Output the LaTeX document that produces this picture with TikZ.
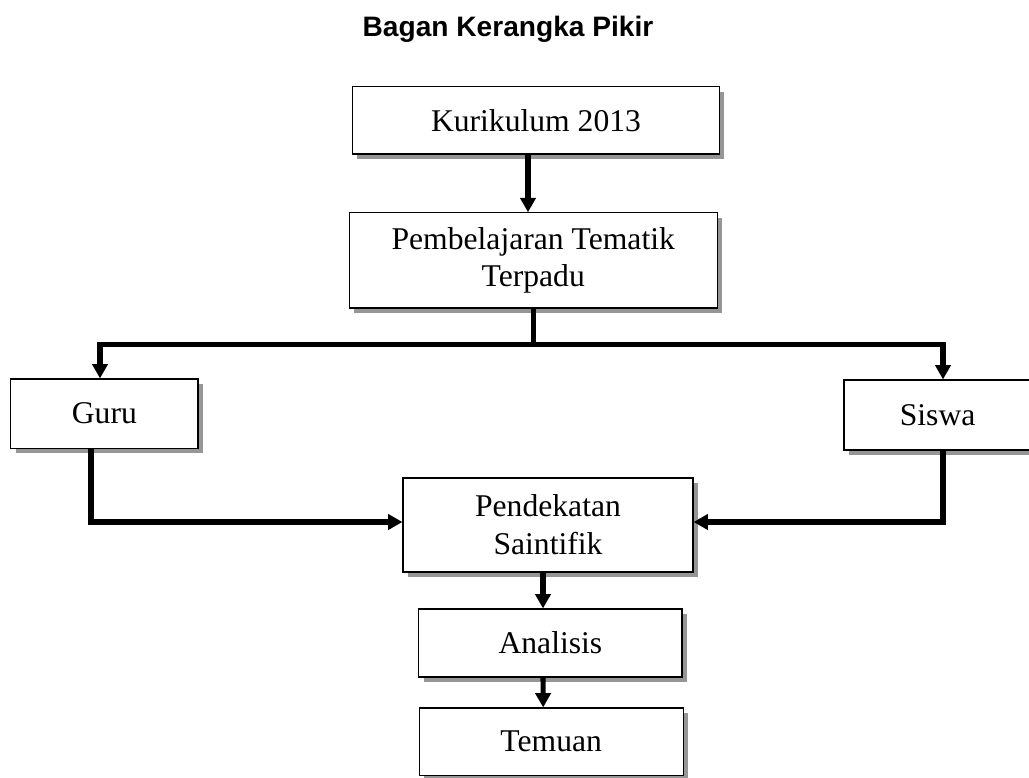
\documentclass[tikz,border=0pt]{standalone}
\usepackage{fontspec}
\setmainfont{Liberation Serif}
\newfontfamily\titlefont{Liberation Sans}
\usepackage{tikz}
\usetikzlibrary{arrows.meta, positioning, shadows, calc}
\definecolor{shadowgray}{RGB}{150,150,150}

\begin{document}
\begin{tikzpicture}[
    box/.style={draw, line width=0.8pt, fill=white, align=center, inner sep=2pt,
        font=\fontsize{22.5}{27}\selectfont,
        general shadow={fill=shadowgray, shadow xshift=0.12cm, shadow yshift=-0.12cm}},
    arr/.style={-{Triangle[width=0.38cm,length=0.36cm]}, line width=3.6pt},
    link/.style={line width=3.6pt}
]
\useasboundingbox (0,0) rectangle (25.725,-19.425);

% judul
\node[anchor=base, font=\titlefont\bfseries\fontsize{20}{24}\selectfont] (judul) at (12.7,-0.9) {Bagan Kerangka Pikir};

% kotak
\node[box, minimum width=9.18cm, minimum height=1.68cm] (kurikulum) at (13.4,-3.01) {Kurikulum 2013};
\node[box, minimum width=9.2cm, minimum height=2.38cm] (tematik) at (13.33,-6.51) {Pembelajaran Tematik\\Terpadu};
\node[box, minimum width=4.68cm, minimum height=1.73cm] (guru) at (2.61,-10.34) {Guru};
\node[box, minimum width=4.68cm, minimum height=1.75cm] (siswa) at (23.44,-10.375) {Siswa};
\node[box, minimum width=7.25cm, minimum height=2.35cm] (saintifik) at (13.7,-13.125) {Pendekatan\\Saintifik};
\node[box, minimum width=6.58cm, minimum height=1.7cm] (analisis) at (13.76,-16.075) {Analisis};
\node[box, minimum width=6.6cm, minimum height=1.68cm] (temuan) at (13.78,-18.54) {Temuan};

% panah
\draw[arr] ([xshift=-0.2cm]kurikulum.south) -- ([xshift=-0.13cm]tematik.north);
\draw[link] (tematik.south) -- ++(0,-0.9) coordinate (cabang);
\draw[arr] ([xshift=1.8pt]cabang) -| ([xshift=-0.11cm]guru.north);
\draw[arr] ([xshift=-1.8pt]cabang) -| ([xshift=0.135cm]siswa.north);
\draw[arr] ([xshift=-0.335cm]guru.south) |- ([yshift=0.075cm]saintifik.west);
\draw[arr] ([xshift=0.135cm]siswa.south) |- ([yshift=0.075cm]saintifik.east);
\draw[arr] ([xshift=-0.125cm]saintifik.south) -- ([xshift=-0.185cm]analisis.north);
\draw[arr] ([xshift=-0.185cm]analisis.south) -- ([xshift=-0.2cm]temuan.north);
\end{tikzpicture}
\end{document}
